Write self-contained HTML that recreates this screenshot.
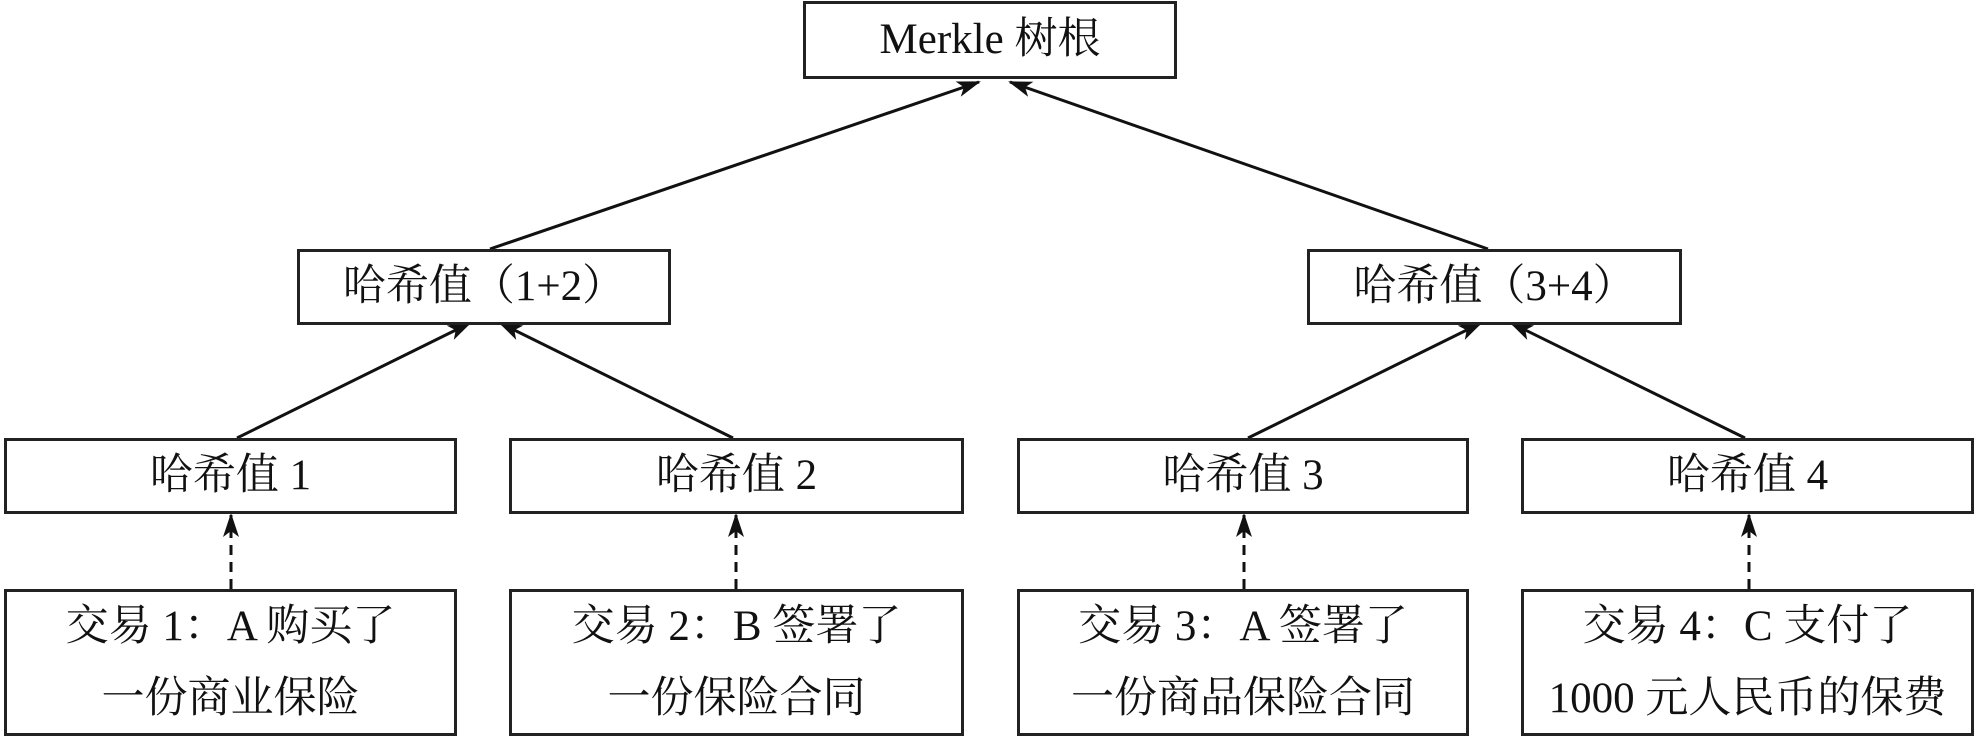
<!DOCTYPE html>
<html><head><meta charset="utf-8"><style>
html,body{margin:0;padding:0;background:#fff;}
body{width:1980px;height:738px;position:relative;overflow:hidden;font-family:"Liberation Serif","Noto Serif CJK SC","Noto Sans CJK SC",serif;color:#111;}
.b{position:absolute;box-sizing:border-box;border:3px solid #222;background:#fff;display:flex;align-items:center;justify-content:center;text-align:center;font-size:43px;line-height:72px;white-space:nowrap;}
svg{position:absolute;left:0;top:0;}
</style></head><body>
<svg width="1980" height="738">
<defs><marker id="a" markerWidth="24" markerHeight="16" refX="22" refY="8" orient="auto" markerUnits="userSpaceOnUse"><path d="M0,0 L24,8 L0,16 L6,8 Z" fill="#111"/></marker></defs>
<g stroke="#111" stroke-width="3" fill="none">
<line x1="490" y1="249" x2="979" y2="82" marker-end="url(#a)"/>
<line x1="1488" y1="249" x2="1010" y2="82" marker-end="url(#a)"/>
<line x1="237" y1="438" x2="470" y2="323" marker-end="url(#a)"/>
<line x1="733" y1="438" x2="500" y2="323" marker-end="url(#a)"/>
<line x1="1248" y1="438" x2="1481" y2="323" marker-end="url(#a)"/>
<line x1="1745" y1="438" x2="1511" y2="323" marker-end="url(#a)"/>
<g stroke-dasharray="10,7">
<line x1="231" y1="589" x2="231" y2="515" marker-end="url(#a)"/>
<line x1="736" y1="589" x2="736" y2="515" marker-end="url(#a)"/>
<line x1="1244" y1="589" x2="1244" y2="515" marker-end="url(#a)"/>
<line x1="1749" y1="589" x2="1749" y2="515" marker-end="url(#a)"/>
</g></g></svg>
<div class="b" style="left:803px;top:1px;width:374px;height:78px;">Merkle 树根</div>
<div class="b" style="left:297px;top:249px;width:374px;height:76px;">哈希值（1+2）</div>
<div class="b" style="left:1307px;top:249px;width:375px;height:76px;">哈希值（3+4）</div>
<div class="b" style="left:4px;top:438px;width:453px;height:76px;">哈希值 1</div>
<div class="b" style="left:509px;top:438px;width:455px;height:76px;">哈希值 2</div>
<div class="b" style="left:1017px;top:438px;width:452px;height:76px;">哈希值 3</div>
<div class="b" style="left:1521px;top:438px;width:453px;height:76px;">哈希值 4</div>
<div class="b" style="left:4px;top:589px;width:453px;height:147px;">交易 1：A 购买了<br>一份商业保险</div>
<div class="b" style="left:509px;top:589px;width:455px;height:147px;">交易 2：B 签署了<br>一份保险合同</div>
<div class="b" style="left:1017px;top:589px;width:452px;height:147px;">交易 3：A 签署了<br>一份商品保险合同</div>
<div class="b" style="left:1521px;top:589px;width:453px;height:147px;">交易 4：C 支付了<br>1000 元人民币的保费</div>
</body></html>
